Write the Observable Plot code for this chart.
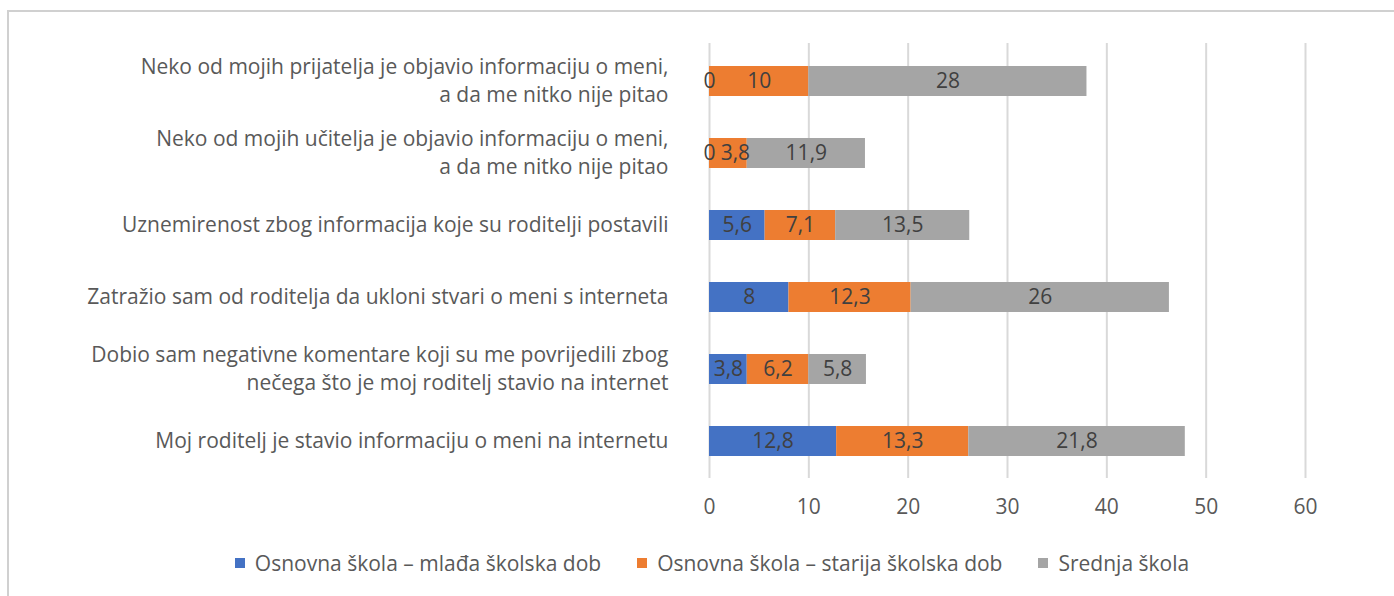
<!DOCTYPE html>
<html>
<head>
<meta charset="utf-8">
<script src="https://cdn.jsdelivr.net/npm/d3@7"></script>
<script src="https://cdn.jsdelivr.net/npm/@observablehq/plot@0.6"></script>
<style>
  html, body { margin: 0; padding: 0; background: #fff; overflow: hidden; }
  body { width: 1394px; height: 596px; position: relative; font-family: "Open Sans", sans-serif; }
  #frame { position: absolute; left: 7px; top: 10px; width: 1400px; height: 600px;
           border-top: 2px solid #d0d0d0; border-left: 2px solid #d0d0d0; box-sizing: border-box; }
  #chart { position: absolute; left: 0; top: 0; }
  #legend { position: absolute; left: 15px; top: 549px; width: 1394px; display: flex; justify-content: center;
            font-size: 21px; color: #595959; }
  .item { display: flex; align-items: center; margin: 0 18px; }
  .sw { width: 10px; height: 10px; margin-right: 10px; display: inline-block; }
</style>
</head>
<body>
<div id="frame"></div>
<div id="chart"></div>
<div id="legend"></div>
<script>
const categories = [
  "Neko od mojih prijatelja je objavio informaciju o meni,\na da me nitko nije pitao",
  "Neko od mojih učitelja je objavio informaciju o meni,\na da me nitko nije pitao",
  "Uznemirenost zbog informacija koje su roditelji postavili",
  "Zatražio sam od roditelja da ukloni stvari o meni s interneta",
  "Dobio sam negativne komentare koji su me povrijedili zbog\nnečega što je moj roditelj stavio na internet",
  "Moj roditelj je stavio informaciju o meni na internetu"
];
const seriesNames = [
  "Osnovna škola – mlađa školska dob",
  "Osnovna škola – starija školska dob",
  "Srednja škola"
];
const mladja  = [0, 0, 5.6, 8, 3.8, 12.8];
const starija = [10, 3.8, 7.1, 12.3, 6.2, 13.3];
const srednja = [28, 11.9, 13.5, 26, 5.8, 21.8];
const colors = ["#4472C4", "#ED7D31", "#A5A5A5"];
const xTicks = [0, 10, 20, 30, 40, 50, 60];

const seriesValues = [mladja, starija, srednja];
const data = [];
seriesNames.forEach((s, si) => {
  categories.forEach((c, ci) => {
    const prev = si > 0 ? seriesValues[si - 1][ci] : null;
    // a small label right after a zero label is nudged so the two don't collide (as in the original)
    const nudge = prev === 0 && seriesValues[si][ci] < 5;
    data.push({category: c, series: s, value: seriesValues[si][ci], nudge});
  });
});
const fmt = v => String(v).replace(".", ",");
// text is null (dropped after stacking) for labels handled by the other mark
const textOpts = (wantNudge) => Plot.stackX({x: "value", y: "category", z: "series", order: seriesNames,
  text: d => (d.nudge === wantNudge ? fmt(d.value) : null), fill: "#404040", fontSize: 21});

const chart = Plot.plot({
  width: 1394,
  height: 530,
  marginLeft: 709,
  marginRight: 89,
  marginTop: 43,
  marginBottom: 52,
  style: {fontFamily: "'Open Sans', sans-serif", fontSize: "21px", color: "#595959", background: "transparent"},
  x: {domain: [0, 60]},
  y: {domain: categories, paddingInner: 0.59, paddingOuter: 0.295},
  color: {domain: seriesNames, range: colors},
  marks: [
    Plot.gridX(xTicks, {stroke: "#d9d9d9", strokeWidth: 2, strokeOpacity: 1}),
    Plot.barX(data, Plot.stackX({x: "value", y: "category", fill: "series", order: seriesNames})),
    Plot.text(data, textOpts(false)),
    Plot.text(data, {...textOpts(true), dx: 7}),
    Plot.axisX({ticks: xTicks, tickSize: 0, tickPadding: 21, fontSize: 21, label: null, fill: "#595959"}),
    Plot.axisY({tickSize: 0, tickPadding: 41, fontSize: 21, lineHeight: 1.33, dy: -2, label: null, fill: "#595959"})
  ]
});
document.getElementById("chart").appendChild(chart);

const legend = document.getElementById("legend");
seriesNames.forEach((s, i) => {
  const item = document.createElement("div");
  item.className = "item";
  const sw = document.createElement("span");
  sw.className = "sw";
  sw.style.background = colors[i];
  item.appendChild(sw);
  const t = document.createElement("span");
  t.textContent = s;
  item.appendChild(t);
  legend.appendChild(item);
});
</script>
</body>
</html>
